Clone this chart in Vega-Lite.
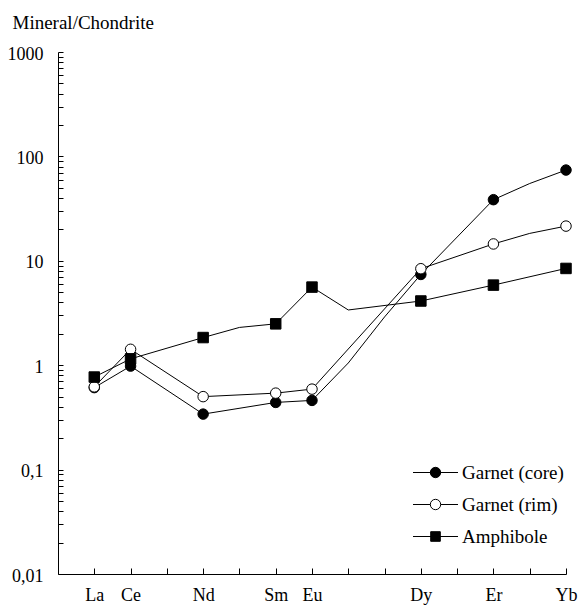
{
  "$schema": "https://vega.github.io/schema/vega-lite/v6.json",
  "width": 508,
  "height": 522,
  "autosize": {"type": "none"},
  "padding": {"left": 58, "top": 52, "right": 15, "bottom": 35},
  "background": "white",
  "config": {
    "view": {"stroke": null},
    "axis": {
      "labelFont": "Liberation Serif",
      "labelFontSize": 18,
      "labelColor": "black",
      "domainColor": "black",
      "tickColor": "black",
      "grid": false,
      "titleFont": "Liberation Serif",
      "titleFontSize": 19,
      "titleFontWeight": "normal",
      "titleColor": "black"
    },
    "legend": {
      "labelFont": "Liberation Serif"
    }
  },
  "data": {
    "values": [
      {"series": "Garnet (core)", "el": "La", "n": 57, "v": 0.61},
      {"series": "Garnet (core)", "el": "Ce", "n": 58, "v": 0.98},
      {"series": "Garnet (core)", "el": "Nd", "n": 60, "v": 0.34},
      {"series": "Garnet (core)", "el": "Sm", "n": 62, "v": 0.44},
      {"series": "Garnet (core)", "el": "Eu", "n": 63, "v": 0.46},
      {"series": "Garnet (core)", "el": "Gd", "n": 64, "v": 1.05},
      {"series": "Garnet (core)", "el": "Tb", "n": 65, "v": 2.9},
      {"series": "Garnet (core)", "el": "Dy", "n": 66, "v": 7.4},
      {"series": "Garnet (core)", "el": "Er", "n": 68, "v": 38.5},
      {"series": "Garnet (core)", "el": "Tm", "n": 69, "v": 55},
      {"series": "Garnet (core)", "el": "Yb", "n": 70, "v": 74},
      {"series": "Garnet (rim)", "el": "La", "n": 57, "v": 0.62},
      {"series": "Garnet (rim)", "el": "Ce", "n": 58, "v": 1.42},
      {"series": "Garnet (rim)", "el": "Nd", "n": 60, "v": 0.5},
      {"series": "Garnet (rim)", "el": "Sm", "n": 62, "v": 0.54},
      {"series": "Garnet (rim)", "el": "Eu", "n": 63, "v": 0.59},
      {"series": "Garnet (rim)", "el": "Dy", "n": 66, "v": 8.4},
      {"series": "Garnet (rim)", "el": "Er", "n": 68, "v": 14.5},
      {"series": "Garnet (rim)", "el": "Tm", "n": 69, "v": 18.3},
      {"series": "Garnet (rim)", "el": "Yb", "n": 70, "v": 21.5},
      {"series": "Amphibole", "el": "La", "n": 57, "v": 0.77},
      {"series": "Amphibole", "el": "Ce", "n": 58, "v": 1.15},
      {"series": "Amphibole", "el": "Nd", "n": 60, "v": 1.84},
      {"series": "Amphibole", "el": "Pm", "n": 61, "v": 2.3},
      {"series": "Amphibole", "el": "Sm", "n": 62, "v": 2.49},
      {"series": "Amphibole", "el": "Eu", "n": 63, "v": 5.6},
      {"series": "Amphibole", "el": "Gd", "n": 64, "v": 3.38},
      {"series": "Amphibole", "el": "Dy", "n": 66, "v": 4.12},
      {"series": "Amphibole", "el": "Er", "n": 68, "v": 5.85},
      {"series": "Amphibole", "el": "Yb", "n": 70, "v": 8.45}
    ]
  },
  "encoding": {
    "x": {
      "field": "n",
      "type": "quantitative",
      "scale": {"domain": [56, 70], "nice": false, "zero": false},
      "axis": {
        "title": null,
        "labelFont": "Liberation Serif",
        "values": [57, 58, 59, 60, 61, 62, 63, 64, 65, 66, 67, 68, 69, 70],
        "labelExpr": "['', 'La', 'Ce', '', 'Nd', '', 'Sm', 'Eu', '', '', 'Dy', '', 'Er', '', 'Yb'][datum.value - 56]",
        "tickSize": -6,
        "labelPadding": 18,
        "labelFlush": false,
        "labelOverlap": false,
        "labelBaseline": "top"
      }
    },
    "y": {
      "field": "v",
      "type": "quantitative",
      "scale": {"type": "log", "domain": [0.01, 1000], "nice": false},
      "axis": {
        "title": "Mineral/Chondrite",
        "titleFont": "Liberation Serif",
        "labelFont": "Liberation Serif",
        "titleAngle": 0,
        "titleAlign": "left",
        "titleBaseline": "alphabetic",
        "titleX": -46,
        "titleY": -24,
        "values": [0.01, 0.02, 0.03, 0.04, 0.05, 0.06, 0.07, 0.08, 0.09, 0.1, 0.2, 0.3, 0.4, 0.5, 0.6, 0.7, 0.8, 0.9, 1, 2, 3, 4, 5, 6, 7, 8, 9, 10, 20, 30, 40, 50, 60, 70, 80, 90, 100, 200, 300, 400, 500, 600, 700, 800, 900, 1000],
        "labelExpr": "datum.value == 0.01 ? '0,01' : datum.value == 0.1 ? '0,1' : datum.value == 1 ? '1' : datum.value == 10 ? '10' : datum.value == 100 ? '100' : datum.value == 1000 ? '1000' : ''",
        "tickSize": -5,
        "labelPadding": 20,
        "labelOffset": 2,
        "labelOverlap": false,
        "labelFlush": false
      }
    }
  },
  "layer": [
    {
      "mark": {"type": "line", "color": "black", "strokeWidth": 1},
      "encoding": {
        "detail": {"field": "series"},
        "order": {"field": "n"}
      }
    },
    {
      "transform": [{"filter": "indexof(['La','Ce','Nd','Sm','Eu','Dy','Er','Yb'], datum.el) >= 0"}],
      "mark": {"type": "point", "filled": true, "stroke": "black", "strokeWidth": 1, "size": 110, "opacity": 1},
      "encoding": {
        "shape": {
          "field": "series",
          "scale": {"domain": ["Garnet (core)", "Garnet (rim)", "Amphibole"], "range": ["circle", "circle", "square"]},
          "legend": null
        },
        "fill": {
          "field": "series",
          "scale": {"domain": ["Garnet (core)", "Garnet (rim)", "Amphibole"], "range": ["black", "white", "black"]},
          "legend": null
        }
      }
    },
    {
      "transform": [{"filter": "datum.el == 'La'"}],
      "mark": {"type": "point", "filled": true, "strokeWidth": 1, "size": 400, "opacity": 0},
      "encoding": {
        "shape": {
          "field": "series",
          "scale": {
            "domain": ["Garnet (core)", "Garnet (rim)", "Amphibole"],
            "range": [
              "M-2.25,0H2.25M0.52,0A0.52,0.52,0,1,1,-0.52,0A0.52,0.52,0,1,1,0.52,0",
              "M-2.25,0H-0.52M0.52,0H2.25M0.52,0A0.52,0.52,0,1,1,-0.52,0A0.52,0.52,0,1,1,0.52,0",
              "M-2.25,0H2.25M-0.48,-0.48H0.48V0.48H-0.48Z"
            ]
          },
          "legend": {
            "title": null,
            "orient": "none",
            "legendX": 367,
            "legendY": 410,
            "symbolSize": 400,
            "symbolOpacity": 1,
            "symbolStrokeWidth": 1,
            "labelFont": "Liberation Serif",
            "labelFontSize": 19,
            "labelColor": "black",
            "labelOffset": 16,
            "rowPadding": 11,
            "padding": 0
          }
        },
        "fill": {
          "field": "series",
          "scale": {"domain": ["Garnet (core)", "Garnet (rim)", "Amphibole"], "range": ["black", "white", "black"]},
          "legend": {
            "title": null,
            "orient": "none",
            "legendX": 367,
            "legendY": 410,
            "symbolSize": 400,
            "symbolOpacity": 1,
            "symbolStrokeWidth": 1,
            "labelFont": "Liberation Serif",
            "labelFontSize": 19,
            "labelColor": "black",
            "labelOffset": 16,
            "rowPadding": 11,
            "padding": 0
          }
        },
        "stroke": {
          "field": "series",
          "scale": {"domain": ["Garnet (core)", "Garnet (rim)", "Amphibole"], "range": ["black", "black", "black"]},
          "legend": {
            "title": null,
            "orient": "none",
            "legendX": 367,
            "legendY": 410,
            "symbolSize": 400,
            "symbolOpacity": 1,
            "symbolStrokeWidth": 1,
            "labelFont": "Liberation Serif",
            "labelFontSize": 19,
            "labelColor": "black",
            "labelOffset": 16,
            "rowPadding": 11,
            "padding": 0
          }
        }
      }
    }
  ],
  "resolve": {"scale": {"shape": "independent", "fill": "independent", "stroke": "independent"}}
}
